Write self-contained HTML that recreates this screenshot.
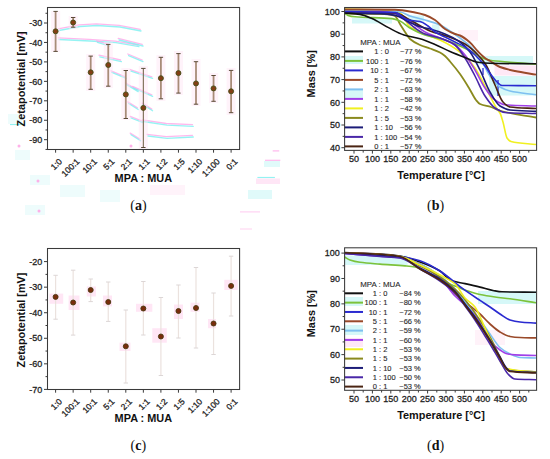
<!DOCTYPE html>
<html><head><meta charset="utf-8"><style>
html,body{margin:0;padding:0;background:#fff;width:550px;height:459px;overflow:hidden}
svg{display:block}
</style></head><body>
<svg width="550" height="459" viewBox="0 0 550 459">
<rect width="550" height="459" fill="#fff"/>
<path d="M58.2,28.9 L79.2,24.9 L96.2,23.9 L119.2,25.4 L140.2,29.4" fill="none" stroke="#ffa6e8" stroke-width="1.3" opacity="0.8" stroke-linecap="round"/>
<path d="M59.0,30.5 L80.0,26.5 L97.0,25.5 L120.0,27.0 L141.0,31.0" fill="none" stroke="#7af0f0" stroke-width="1.3" opacity="0.8" stroke-linecap="round"/>
<path d="M58.2,37.9 L89.2,39.4 L115.2,41.1 L138.2,45.0" fill="none" stroke="#ffa6e8" stroke-width="1.3" opacity="0.8" stroke-linecap="round"/>
<path d="M59.0,39.5 L90.0,41.0 L116.0,42.7 L139.0,46.6" fill="none" stroke="#7af0f0" stroke-width="1.3" opacity="0.8" stroke-linecap="round"/>
<path d="M96.6,40.8 L108.6,44.4" fill="none" stroke="#ffa6e8" stroke-width="1.3" opacity="0.8" stroke-linecap="round"/>
<path d="M97.4,42.4 L109.4,46.0" fill="none" stroke="#7af0f0" stroke-width="1.3" opacity="0.8" stroke-linecap="round"/>
<path d="M118.2,38.4 L142.2,44.4" fill="none" stroke="#ffa6e8" stroke-width="1.3" opacity="0.8" stroke-linecap="round"/>
<path d="M119.0,40.0 L143.0,46.0" fill="none" stroke="#7af0f0" stroke-width="1.3" opacity="0.8" stroke-linecap="round"/>
<path d="M99.0,55.2 L120.6,60.0" fill="none" stroke="#ffa6e8" stroke-width="1.3" opacity="0.8" stroke-linecap="round"/>
<path d="M99.8,56.8 L121.4,61.6" fill="none" stroke="#7af0f0" stroke-width="1.3" opacity="0.8" stroke-linecap="round"/>
<path d="M127.8,54.0 L142.2,60.0" fill="none" stroke="#ffa6e8" stroke-width="1.3" opacity="0.8" stroke-linecap="round"/>
<path d="M128.6,55.6 L143.0,61.6" fill="none" stroke="#7af0f0" stroke-width="1.3" opacity="0.8" stroke-linecap="round"/>
<path d="M111.0,70.8 L125.4,76.8" fill="none" stroke="#ffa6e8" stroke-width="1.3" opacity="0.8" stroke-linecap="round"/>
<path d="M111.8,72.4 L126.2,78.4" fill="none" stroke="#7af0f0" stroke-width="1.3" opacity="0.8" stroke-linecap="round"/>
<path d="M130.2,69.6 L151.8,76.8" fill="none" stroke="#ffa6e8" stroke-width="1.3" opacity="0.8" stroke-linecap="round"/>
<path d="M131.0,71.2 L152.6,78.4" fill="none" stroke="#7af0f0" stroke-width="1.3" opacity="0.8" stroke-linecap="round"/>
<path d="M125.4,82.8 L137.4,90.0" fill="none" stroke="#ffa6e8" stroke-width="1.3" opacity="0.8" stroke-linecap="round"/>
<path d="M126.2,84.4 L138.2,91.6" fill="none" stroke="#7af0f0" stroke-width="1.3" opacity="0.8" stroke-linecap="round"/>
<path d="M132.6,86.4 L151.8,94.8" fill="none" stroke="#ffa6e8" stroke-width="1.3" opacity="0.8" stroke-linecap="round"/>
<path d="M133.4,88.0 L152.6,96.4" fill="none" stroke="#7af0f0" stroke-width="1.3" opacity="0.8" stroke-linecap="round"/>
<path d="M127.8,101.9 L137.4,107.9" fill="none" stroke="#ffa6e8" stroke-width="1.3" opacity="0.8" stroke-linecap="round"/>
<path d="M128.6,103.5 L138.2,109.5" fill="none" stroke="#7af0f0" stroke-width="1.3" opacity="0.8" stroke-linecap="round"/>
<path d="M142.2,103.1 L151.8,109.1" fill="none" stroke="#ffa6e8" stroke-width="1.3" opacity="0.8" stroke-linecap="round"/>
<path d="M143.0,104.7 L152.6,110.7" fill="none" stroke="#7af0f0" stroke-width="1.3" opacity="0.8" stroke-linecap="round"/>
<path d="M130.2,116.4 L142.2,121.1" fill="none" stroke="#ffa6e8" stroke-width="1.3" opacity="0.8" stroke-linecap="round"/>
<path d="M131.0,118.0 L143.0,122.7" fill="none" stroke="#7af0f0" stroke-width="1.3" opacity="0.8" stroke-linecap="round"/>
<path d="M142.2,119.9 L166.2,123.5 L192.5,124.7" fill="none" stroke="#ffa6e8" stroke-width="1.3" opacity="0.8" stroke-linecap="round"/>
<path d="M143.0,121.5 L167.0,125.1 L193.3,126.3" fill="none" stroke="#7af0f0" stroke-width="1.3" opacity="0.8" stroke-linecap="round"/>
<path d="M130.2,133.1 L139.8,139.1" fill="none" stroke="#ffa6e8" stroke-width="1.3" opacity="0.8" stroke-linecap="round"/>
<path d="M131.0,134.7 L140.6,140.7" fill="none" stroke="#7af0f0" stroke-width="1.3" opacity="0.8" stroke-linecap="round"/>
<path d="M147.0,134.4 L166.2,136.7 L192.5,135.4" fill="none" stroke="#ffa6e8" stroke-width="1.3" opacity="0.8" stroke-linecap="round"/>
<path d="M147.8,136.0 L167.0,138.3 L193.3,137.0" fill="none" stroke="#7af0f0" stroke-width="1.3" opacity="0.8" stroke-linecap="round"/>
<rect x="51.1" y="11" width="9" height="41" fill="#ffe4f4" opacity="0.45"/>
<rect x="68.7" y="16" width="9" height="13" fill="#ffe4f4" opacity="0.45"/>
<rect x="86.2" y="54" width="9" height="37" fill="#ffe4f4" opacity="0.45"/>
<rect x="103.8" y="42" width="9" height="46" fill="#ffe4f4" opacity="0.45"/>
<rect x="121.3" y="68" width="9" height="52" fill="#ffe4f4" opacity="0.45"/>
<rect x="138.8" y="66" width="9" height="83" fill="#ffe4f4" opacity="0.45"/>
<rect x="156.4" y="55" width="9" height="46" fill="#ffe4f4" opacity="0.45"/>
<rect x="174.0" y="51" width="9" height="44" fill="#ffe4f4" opacity="0.45"/>
<rect x="191.5" y="59" width="9" height="47" fill="#ffe4f4" opacity="0.45"/>
<rect x="209.1" y="73" width="9" height="30" fill="#ffe4f4" opacity="0.45"/>
<rect x="226.6" y="68" width="9" height="47" fill="#ffe4f4" opacity="0.45"/>
<rect x="49.4" y="293.6" width="13.8" height="10.2" fill="#ffe0f3" opacity="0.8"/>
<rect x="68.6" y="295.5" width="10.9" height="14.5" fill="#ffe0f3" opacity="0.8"/>
<rect x="86.8" y="286.4" width="9.1" height="10.1" fill="#ffe0f3" opacity="0.8"/>
<rect x="103" y="295.5" width="9.0" height="10.9" fill="#ffe0f3" opacity="0.8"/>
<rect x="119.5" y="342.7" width="11.0" height="8.3" fill="#ffe0f3" opacity="0.8"/>
<rect x="136" y="303.8" width="16.3" height="8.0" fill="#ffe0f3" opacity="0.8"/>
<rect x="152.3" y="328.2" width="14.5" height="14.5" fill="#ffe0f3" opacity="0.8"/>
<rect x="174" y="304.5" width="9.0" height="14.5" fill="#ffe0f3" opacity="0.8"/>
<rect x="190.5" y="302.7" width="9.0" height="9.1" fill="#ffe0f3" opacity="0.8"/>
<rect x="208" y="319" width="8.0" height="9.2" fill="#ffe0f3" opacity="0.8"/>
<rect x="224.3" y="279.8" width="13.4" height="10.2" fill="#ffe0f3" opacity="0.8"/>
<rect x="476" y="56" width="57" height="8.5" fill="#d6f8f8"/>
<rect x="489" y="76" width="47" height="19.5" fill="#d6f8f8"/>
<rect x="344.6" y="56" width="18.4" height="8" fill="#d6f8f8"/>
<rect x="344.6" y="90" width="18.4" height="9" fill="#d6f8f8"/>
<rect x="352" y="18" width="40" height="5.5" fill="#d6f8f8"/>
<rect x="408" y="15.4" width="16" height="7.6" fill="#d6f8f8"/>
<rect x="432" y="24.6" width="7.5" height="6.6" fill="#d6f8f8"/>
<rect x="494.5" y="65.5" width="41.5" height="10" fill="#ffe8f6"/>
<rect x="458" y="30" width="20" height="11" fill="#fff2f9"/>
<rect x="344.6" y="255.5" width="63" height="9.5" fill="#d6f8f8"/>
<rect x="344.6" y="297" width="18.4" height="9" fill="#d6f8f8"/>
<rect x="344.6" y="325" width="18.4" height="10" fill="#d6f8f8"/>
<rect x="478" y="291" width="58" height="13" fill="#d6f8f8"/>
<rect x="344.6" y="338" width="18.4" height="9" fill="#ffe8f6"/>
<rect x="475" y="330" width="30" height="15" fill="#fff2f9"/>
<line x1="272.7" y1="150.9" x2="279.2" y2="150.9" stroke="#ffa6e8" stroke-width="1.2" opacity="0.8"/>
<line x1="265" y1="160.3" x2="280.3" y2="160.3" stroke="#ffa6e8" stroke-width="1.2" opacity="0.8"/>
<line x1="257.4" y1="177.5" x2="274.9" y2="177.5" stroke="#7af0f0" stroke-width="1.2" opacity="0.8"/>
<line x1="248.7" y1="194.5" x2="267.2" y2="194.5" stroke="#ffa6e8" stroke-width="1.2" opacity="0.8"/>
<line x1="240" y1="211.9" x2="260" y2="211.9" stroke="#ffc8f0" stroke-width="1.2" opacity="0.8"/>
<line x1="240" y1="229" x2="252" y2="229" stroke="#ffd0f0" stroke-width="1.2" opacity="0.8"/>
<line x1="10" y1="124.5" x2="25" y2="124.5" stroke="#7af0f0" stroke-width="1.2" opacity="0.8"/>
<rect x="264" y="161" width="16" height="6" fill="#e0fafa"/>
<rect x="256" y="178.5" width="24" height="5.5" fill="#ffe6f6"/>
<rect x="248" y="190" width="24" height="9" fill="#e0fafa"/>
<rect x="8" y="114" width="14" height="10" fill="#eefcfc"/>
<rect x="15" y="150" width="15" height="10" fill="#eefcfc"/>
<rect x="30" y="175" width="20" height="10" fill="#eefcfc"/>
<rect x="25" y="205" width="20" height="10" fill="#eefcfc"/>
<rect x="60" y="185" width="25" height="12" fill="#eefcfc"/>
<rect x="100" y="190" width="20" height="12" fill="#eefcfc"/>
<rect x="150" y="185" width="35" height="10" fill="#fff3fa"/>
<circle cx="19" cy="146" r="1.5" fill="#ff9ee4" opacity="0.8"/>
<circle cx="38" cy="181" r="1.5" fill="#ff9ee4" opacity="0.8"/>
<circle cx="39" cy="211" r="1.5" fill="#ff9ee4" opacity="0.8"/>
<circle cx="22" cy="34" r="1.5" fill="#ff9ee4" opacity="0.8"/>
<circle cx="131" cy="146" r="1.5" fill="#ff9ee4" opacity="0.8"/>
<line x1="55.60" y1="11.40" x2="55.60" y2="51.40" stroke="#a88c78" stroke-width="1.8"/>
<line x1="53.40" y1="11.40" x2="57.80" y2="11.40" stroke="#5a4a38" stroke-width="1"/>
<line x1="53.40" y1="51.40" x2="57.80" y2="51.40" stroke="#5a4a38" stroke-width="1"/>
<line x1="73.15" y1="17.50" x2="73.15" y2="27.20" stroke="#a88c78" stroke-width="1.8"/>
<line x1="70.95" y1="17.50" x2="75.35" y2="17.50" stroke="#5a4a38" stroke-width="1"/>
<line x1="70.95" y1="27.20" x2="75.35" y2="27.20" stroke="#5a4a38" stroke-width="1"/>
<line x1="90.70" y1="56.10" x2="90.70" y2="89.30" stroke="#a88c78" stroke-width="1.8"/>
<line x1="88.50" y1="56.10" x2="92.90" y2="56.10" stroke="#5a4a38" stroke-width="1"/>
<line x1="88.50" y1="89.30" x2="92.90" y2="89.30" stroke="#5a4a38" stroke-width="1"/>
<line x1="108.25" y1="44.40" x2="108.25" y2="86.20" stroke="#a88c78" stroke-width="1.8"/>
<line x1="106.05" y1="44.40" x2="110.45" y2="44.40" stroke="#5a4a38" stroke-width="1"/>
<line x1="106.05" y1="86.20" x2="110.45" y2="86.20" stroke="#5a4a38" stroke-width="1"/>
<line x1="125.80" y1="70.50" x2="125.80" y2="118.50" stroke="#a88c78" stroke-width="1.8"/>
<line x1="123.60" y1="70.50" x2="128.00" y2="70.50" stroke="#5a4a38" stroke-width="1"/>
<line x1="123.60" y1="118.50" x2="128.00" y2="118.50" stroke="#5a4a38" stroke-width="1"/>
<line x1="143.35" y1="68.40" x2="143.35" y2="147.50" stroke="#7a6a52" stroke-width="1.1"/>
<line x1="141.15" y1="68.40" x2="145.55" y2="68.40" stroke="#5a4a38" stroke-width="1"/>
<line x1="141.15" y1="147.50" x2="145.55" y2="147.50" stroke="#5a4a38" stroke-width="1"/>
<line x1="160.90" y1="57.30" x2="160.90" y2="98.80" stroke="#a88c78" stroke-width="1.8"/>
<line x1="158.70" y1="57.30" x2="163.10" y2="57.30" stroke="#5a4a38" stroke-width="1"/>
<line x1="158.70" y1="98.80" x2="163.10" y2="98.80" stroke="#5a4a38" stroke-width="1"/>
<line x1="178.45" y1="53.60" x2="178.45" y2="93.10" stroke="#a88c78" stroke-width="1.8"/>
<line x1="176.25" y1="53.60" x2="180.65" y2="53.60" stroke="#5a4a38" stroke-width="1"/>
<line x1="176.25" y1="93.10" x2="180.65" y2="93.10" stroke="#5a4a38" stroke-width="1"/>
<line x1="196.00" y1="61.70" x2="196.00" y2="104.20" stroke="#a88c78" stroke-width="1.8"/>
<line x1="193.80" y1="61.70" x2="198.20" y2="61.70" stroke="#5a4a38" stroke-width="1"/>
<line x1="193.80" y1="104.20" x2="198.20" y2="104.20" stroke="#5a4a38" stroke-width="1"/>
<line x1="213.55" y1="75.50" x2="213.55" y2="101.30" stroke="#a88c78" stroke-width="1.8"/>
<line x1="211.35" y1="75.50" x2="215.75" y2="75.50" stroke="#5a4a38" stroke-width="1"/>
<line x1="211.35" y1="101.30" x2="215.75" y2="101.30" stroke="#5a4a38" stroke-width="1"/>
<line x1="231.10" y1="70.40" x2="231.10" y2="112.70" stroke="#a88c78" stroke-width="1.8"/>
<line x1="228.90" y1="70.40" x2="233.30" y2="70.40" stroke="#5a4a38" stroke-width="1"/>
<line x1="228.90" y1="112.70" x2="233.30" y2="112.70" stroke="#5a4a38" stroke-width="1"/>
<circle cx="55.60" cy="31.30" r="2.5" fill="#843e14" stroke="#44501a" stroke-width="0.9"/>
<circle cx="73.15" cy="22.50" r="2.5" fill="#843e14" stroke="#44501a" stroke-width="0.9"/>
<circle cx="90.70" cy="72.30" r="2.5" fill="#843e14" stroke="#44501a" stroke-width="0.9"/>
<circle cx="108.25" cy="65.00" r="2.5" fill="#843e14" stroke="#44501a" stroke-width="0.9"/>
<circle cx="125.80" cy="94.40" r="2.5" fill="#843e14" stroke="#44501a" stroke-width="0.9"/>
<circle cx="143.35" cy="107.90" r="2.5" fill="#843e14" stroke="#44501a" stroke-width="0.9"/>
<circle cx="160.90" cy="78.20" r="2.5" fill="#843e14" stroke="#44501a" stroke-width="0.9"/>
<circle cx="178.45" cy="73.10" r="2.5" fill="#843e14" stroke="#44501a" stroke-width="0.9"/>
<circle cx="196.00" cy="83.40" r="2.5" fill="#843e14" stroke="#44501a" stroke-width="0.9"/>
<circle cx="213.55" cy="88.40" r="2.5" fill="#843e14" stroke="#44501a" stroke-width="0.9"/>
<circle cx="231.10" cy="91.30" r="2.5" fill="#843e14" stroke="#44501a" stroke-width="0.9"/>
<rect x="47.5" y="7.5" width="192.10" height="142.00" fill="none" stroke="#3a3a3a" stroke-width="1.05"/>
<line x1="44" y1="23.00" x2="47.5" y2="23.00" stroke="#3a3a3a" stroke-width="1"/>
<text x="42.30" y="26.20" font-size="9" text-anchor="end" font-weight="normal" fill="#1e1e1e" stroke="#1e1e1e" stroke-width="0.28" font-family='"Liberation Sans", sans-serif' >-30</text>
<line x1="44" y1="42.45" x2="47.5" y2="42.45" stroke="#3a3a3a" stroke-width="1"/>
<text x="42.30" y="45.65" font-size="9" text-anchor="end" font-weight="normal" fill="#1e1e1e" stroke="#1e1e1e" stroke-width="0.28" font-family='"Liberation Sans", sans-serif' >-40</text>
<line x1="44" y1="61.90" x2="47.5" y2="61.90" stroke="#3a3a3a" stroke-width="1"/>
<text x="42.30" y="65.10" font-size="9" text-anchor="end" font-weight="normal" fill="#1e1e1e" stroke="#1e1e1e" stroke-width="0.28" font-family='"Liberation Sans", sans-serif' >-50</text>
<line x1="44" y1="81.35" x2="47.5" y2="81.35" stroke="#3a3a3a" stroke-width="1"/>
<text x="42.30" y="84.55" font-size="9" text-anchor="end" font-weight="normal" fill="#1e1e1e" stroke="#1e1e1e" stroke-width="0.28" font-family='"Liberation Sans", sans-serif' >-60</text>
<line x1="44" y1="100.80" x2="47.5" y2="100.80" stroke="#3a3a3a" stroke-width="1"/>
<text x="42.30" y="104.00" font-size="9" text-anchor="end" font-weight="normal" fill="#1e1e1e" stroke="#1e1e1e" stroke-width="0.28" font-family='"Liberation Sans", sans-serif' >-70</text>
<line x1="44" y1="120.25" x2="47.5" y2="120.25" stroke="#3a3a3a" stroke-width="1"/>
<text x="42.30" y="123.45" font-size="9" text-anchor="end" font-weight="normal" fill="#1e1e1e" stroke="#1e1e1e" stroke-width="0.28" font-family='"Liberation Sans", sans-serif' >-80</text>
<line x1="44" y1="139.70" x2="47.5" y2="139.70" stroke="#3a3a3a" stroke-width="1"/>
<text x="42.30" y="142.90" font-size="9" text-anchor="end" font-weight="normal" fill="#1e1e1e" stroke="#1e1e1e" stroke-width="0.28" font-family='"Liberation Sans", sans-serif' >-90</text>
<line x1="45.5" y1="13.28" x2="47.5" y2="13.28" stroke="#3a3a3a" stroke-width="1"/>
<line x1="45.5" y1="32.73" x2="47.5" y2="32.73" stroke="#3a3a3a" stroke-width="1"/>
<line x1="45.5" y1="52.17" x2="47.5" y2="52.17" stroke="#3a3a3a" stroke-width="1"/>
<line x1="45.5" y1="71.62" x2="47.5" y2="71.62" stroke="#3a3a3a" stroke-width="1"/>
<line x1="45.5" y1="91.08" x2="47.5" y2="91.08" stroke="#3a3a3a" stroke-width="1"/>
<line x1="45.5" y1="110.53" x2="47.5" y2="110.53" stroke="#3a3a3a" stroke-width="1"/>
<line x1="45.5" y1="129.98" x2="47.5" y2="129.98" stroke="#3a3a3a" stroke-width="1"/>
<line x1="45.5" y1="149.43" x2="47.5" y2="149.43" stroke="#3a3a3a" stroke-width="1"/>
<line x1="55.60" y1="149.5" x2="55.60" y2="152.70" stroke="#3a3a3a" stroke-width="1"/>
<text transform="translate(62.50,162.10) rotate(-45)" font-size="8.5" text-anchor="end" fill="#1e1e1e" stroke="#1e1e1e" stroke-width="0.28" font-family='"Liberation Sans", sans-serif'>1:0</text>
<line x1="73.15" y1="149.5" x2="73.15" y2="152.70" stroke="#3a3a3a" stroke-width="1"/>
<text transform="translate(80.05,162.10) rotate(-45)" font-size="8.5" text-anchor="end" fill="#1e1e1e" stroke="#1e1e1e" stroke-width="0.28" font-family='"Liberation Sans", sans-serif'>100:1</text>
<line x1="90.70" y1="149.5" x2="90.70" y2="152.70" stroke="#3a3a3a" stroke-width="1"/>
<text transform="translate(97.60,162.10) rotate(-45)" font-size="8.5" text-anchor="end" fill="#1e1e1e" stroke="#1e1e1e" stroke-width="0.28" font-family='"Liberation Sans", sans-serif'>10:1</text>
<line x1="108.25" y1="149.5" x2="108.25" y2="152.70" stroke="#3a3a3a" stroke-width="1"/>
<text transform="translate(115.15,162.10) rotate(-45)" font-size="8.5" text-anchor="end" fill="#1e1e1e" stroke="#1e1e1e" stroke-width="0.28" font-family='"Liberation Sans", sans-serif'>5:1</text>
<line x1="125.80" y1="149.5" x2="125.80" y2="152.70" stroke="#3a3a3a" stroke-width="1"/>
<text transform="translate(132.70,162.10) rotate(-45)" font-size="8.5" text-anchor="end" fill="#1e1e1e" stroke="#1e1e1e" stroke-width="0.28" font-family='"Liberation Sans", sans-serif'>2:1</text>
<line x1="143.35" y1="149.5" x2="143.35" y2="152.70" stroke="#3a3a3a" stroke-width="1"/>
<text transform="translate(150.25,162.10) rotate(-45)" font-size="8.5" text-anchor="end" fill="#1e1e1e" stroke="#1e1e1e" stroke-width="0.28" font-family='"Liberation Sans", sans-serif'>1:1</text>
<line x1="160.90" y1="149.5" x2="160.90" y2="152.70" stroke="#3a3a3a" stroke-width="1"/>
<text transform="translate(167.80,162.10) rotate(-45)" font-size="8.5" text-anchor="end" fill="#1e1e1e" stroke="#1e1e1e" stroke-width="0.28" font-family='"Liberation Sans", sans-serif'>1:2</text>
<line x1="178.45" y1="149.5" x2="178.45" y2="152.70" stroke="#3a3a3a" stroke-width="1"/>
<text transform="translate(185.35,162.10) rotate(-45)" font-size="8.5" text-anchor="end" fill="#1e1e1e" stroke="#1e1e1e" stroke-width="0.28" font-family='"Liberation Sans", sans-serif'>1:5</text>
<line x1="196.00" y1="149.5" x2="196.00" y2="152.70" stroke="#3a3a3a" stroke-width="1"/>
<text transform="translate(202.90,162.10) rotate(-45)" font-size="8.5" text-anchor="end" fill="#1e1e1e" stroke="#1e1e1e" stroke-width="0.28" font-family='"Liberation Sans", sans-serif'>1:10</text>
<line x1="213.55" y1="149.5" x2="213.55" y2="152.70" stroke="#3a3a3a" stroke-width="1"/>
<text transform="translate(220.45,162.10) rotate(-45)" font-size="8.5" text-anchor="end" fill="#1e1e1e" stroke="#1e1e1e" stroke-width="0.28" font-family='"Liberation Sans", sans-serif'>1:100</text>
<line x1="231.10" y1="149.5" x2="231.10" y2="152.70" stroke="#3a3a3a" stroke-width="1"/>
<text transform="translate(238.00,162.10) rotate(-45)" font-size="8.5" text-anchor="end" fill="#1e1e1e" stroke="#1e1e1e" stroke-width="0.28" font-family='"Liberation Sans", sans-serif'>0:1</text>
<text transform="translate(25.2,78.90) rotate(-90)" font-size="10.9" text-anchor="middle" font-weight="bold" fill="#111" font-family='"Liberation Sans", sans-serif'>Zetapotential [mV]</text>
<text x="143.35" y="181.50" font-size="10.9" text-anchor="middle" font-weight="bold" fill="#111"  font-family='"Liberation Sans", sans-serif' >MPA : MUA</text>
<text x="138.40" y="209.60" font-size="14" text-anchor="middle" font-weight="normal" fill="#111"  font-family='"Liberation Serif", serif' >(<tspan font-weight="bold">a</tspan>)</text>
<line x1="55.60" y1="275.30" x2="55.60" y2="319.20" stroke="#ebe2de" stroke-width="1.2"/>
<line x1="53.40" y1="275.30" x2="57.80" y2="275.30" stroke="#dcd6d6" stroke-width="1"/>
<line x1="53.40" y1="319.20" x2="57.80" y2="319.20" stroke="#dcd6d6" stroke-width="1"/>
<line x1="73.15" y1="270.20" x2="73.15" y2="335.10" stroke="#ebe2de" stroke-width="1.2"/>
<line x1="70.95" y1="270.20" x2="75.35" y2="270.20" stroke="#dcd6d6" stroke-width="1"/>
<line x1="70.95" y1="335.10" x2="75.35" y2="335.10" stroke="#dcd6d6" stroke-width="1"/>
<line x1="90.70" y1="279.00" x2="90.70" y2="301.60" stroke="#ebe2de" stroke-width="1.2"/>
<line x1="88.50" y1="279.00" x2="92.90" y2="279.00" stroke="#dcd6d6" stroke-width="1"/>
<line x1="88.50" y1="301.60" x2="92.90" y2="301.60" stroke="#dcd6d6" stroke-width="1"/>
<line x1="108.25" y1="282.00" x2="108.25" y2="321.40" stroke="#ebe2de" stroke-width="1.2"/>
<line x1="106.05" y1="282.00" x2="110.45" y2="282.00" stroke="#dcd6d6" stroke-width="1"/>
<line x1="106.05" y1="321.40" x2="110.45" y2="321.40" stroke="#dcd6d6" stroke-width="1"/>
<line x1="125.80" y1="310.00" x2="125.80" y2="383.00" stroke="#ebe2de" stroke-width="1.2"/>
<line x1="123.60" y1="310.00" x2="128.00" y2="310.00" stroke="#dcd6d6" stroke-width="1"/>
<line x1="123.60" y1="383.00" x2="128.00" y2="383.00" stroke="#dcd6d6" stroke-width="1"/>
<line x1="143.35" y1="281.50" x2="143.35" y2="335.00" stroke="#ebe2de" stroke-width="1.2"/>
<line x1="141.15" y1="281.50" x2="145.55" y2="281.50" stroke="#dcd6d6" stroke-width="1"/>
<line x1="141.15" y1="335.00" x2="145.55" y2="335.00" stroke="#dcd6d6" stroke-width="1"/>
<line x1="160.90" y1="297.50" x2="160.90" y2="375.50" stroke="#ebe2de" stroke-width="1.2"/>
<line x1="158.70" y1="297.50" x2="163.10" y2="297.50" stroke="#dcd6d6" stroke-width="1"/>
<line x1="158.70" y1="375.50" x2="163.10" y2="375.50" stroke="#dcd6d6" stroke-width="1"/>
<line x1="178.45" y1="285.00" x2="178.45" y2="338.00" stroke="#ebe2de" stroke-width="1.2"/>
<line x1="176.25" y1="285.00" x2="180.65" y2="285.00" stroke="#dcd6d6" stroke-width="1"/>
<line x1="176.25" y1="338.00" x2="180.65" y2="338.00" stroke="#dcd6d6" stroke-width="1"/>
<line x1="196.00" y1="267.50" x2="196.00" y2="348.00" stroke="#ebe2de" stroke-width="1.2"/>
<line x1="193.80" y1="267.50" x2="198.20" y2="267.50" stroke="#dcd6d6" stroke-width="1"/>
<line x1="193.80" y1="348.00" x2="198.20" y2="348.00" stroke="#dcd6d6" stroke-width="1"/>
<line x1="213.55" y1="293.00" x2="213.55" y2="354.50" stroke="#ebe2de" stroke-width="1.2"/>
<line x1="211.35" y1="293.00" x2="215.75" y2="293.00" stroke="#dcd6d6" stroke-width="1"/>
<line x1="211.35" y1="354.50" x2="215.75" y2="354.50" stroke="#dcd6d6" stroke-width="1"/>
<line x1="231.10" y1="256.20" x2="231.10" y2="316.00" stroke="#ebe2de" stroke-width="1.2"/>
<line x1="228.90" y1="256.20" x2="233.30" y2="256.20" stroke="#dcd6d6" stroke-width="1"/>
<line x1="228.90" y1="316.00" x2="233.30" y2="316.00" stroke="#dcd6d6" stroke-width="1"/>
<circle cx="55.60" cy="296.90" r="2.5" fill="#7a2c0c" stroke="#4a3a10" stroke-width="0.9"/>
<circle cx="73.15" cy="302.50" r="2.5" fill="#7a2c0c" stroke="#4a3a10" stroke-width="0.9"/>
<circle cx="90.70" cy="290.00" r="2.5" fill="#7a2c0c" stroke="#4a3a10" stroke-width="0.9"/>
<circle cx="108.25" cy="302.00" r="2.5" fill="#7a2c0c" stroke="#4a3a10" stroke-width="0.9"/>
<circle cx="125.80" cy="346.30" r="2.5" fill="#7a2c0c" stroke="#4a3a10" stroke-width="0.9"/>
<circle cx="143.35" cy="308.50" r="2.5" fill="#7a2c0c" stroke="#4a3a10" stroke-width="0.9"/>
<circle cx="160.90" cy="336.50" r="2.5" fill="#7a2c0c" stroke="#4a3a10" stroke-width="0.9"/>
<circle cx="178.45" cy="311.00" r="2.5" fill="#7a2c0c" stroke="#4a3a10" stroke-width="0.9"/>
<circle cx="196.00" cy="308.00" r="2.5" fill="#7a2c0c" stroke="#4a3a10" stroke-width="0.9"/>
<circle cx="213.55" cy="323.50" r="2.5" fill="#7a2c0c" stroke="#4a3a10" stroke-width="0.9"/>
<circle cx="231.10" cy="285.90" r="2.5" fill="#7a2c0c" stroke="#4a3a10" stroke-width="0.9"/>
<rect x="47.5" y="248.5" width="192.10" height="141.00" fill="none" stroke="#3a3a3a" stroke-width="1.05"/>
<line x1="44" y1="261.60" x2="47.5" y2="261.60" stroke="#3a3a3a" stroke-width="1"/>
<text x="42.30" y="264.80" font-size="9" text-anchor="end" font-weight="normal" fill="#1e1e1e" stroke="#1e1e1e" stroke-width="0.28" font-family='"Liberation Sans", sans-serif' >-20</text>
<line x1="44" y1="287.16" x2="47.5" y2="287.16" stroke="#3a3a3a" stroke-width="1"/>
<text x="42.30" y="290.36" font-size="9" text-anchor="end" font-weight="normal" fill="#1e1e1e" stroke="#1e1e1e" stroke-width="0.28" font-family='"Liberation Sans", sans-serif' >-30</text>
<line x1="44" y1="312.72" x2="47.5" y2="312.72" stroke="#3a3a3a" stroke-width="1"/>
<text x="42.30" y="315.92" font-size="9" text-anchor="end" font-weight="normal" fill="#1e1e1e" stroke="#1e1e1e" stroke-width="0.28" font-family='"Liberation Sans", sans-serif' >-40</text>
<line x1="44" y1="338.28" x2="47.5" y2="338.28" stroke="#3a3a3a" stroke-width="1"/>
<text x="42.30" y="341.48" font-size="9" text-anchor="end" font-weight="normal" fill="#1e1e1e" stroke="#1e1e1e" stroke-width="0.28" font-family='"Liberation Sans", sans-serif' >-50</text>
<line x1="44" y1="363.84" x2="47.5" y2="363.84" stroke="#3a3a3a" stroke-width="1"/>
<text x="42.30" y="367.04" font-size="9" text-anchor="end" font-weight="normal" fill="#1e1e1e" stroke="#1e1e1e" stroke-width="0.28" font-family='"Liberation Sans", sans-serif' >-60</text>
<line x1="44" y1="389.40" x2="47.5" y2="389.40" stroke="#3a3a3a" stroke-width="1"/>
<text x="42.30" y="392.60" font-size="9" text-anchor="end" font-weight="normal" fill="#1e1e1e" stroke="#1e1e1e" stroke-width="0.28" font-family='"Liberation Sans", sans-serif' >-70</text>
<line x1="45.5" y1="274.38" x2="47.5" y2="274.38" stroke="#3a3a3a" stroke-width="1"/>
<line x1="45.5" y1="299.94" x2="47.5" y2="299.94" stroke="#3a3a3a" stroke-width="1"/>
<line x1="45.5" y1="325.50" x2="47.5" y2="325.50" stroke="#3a3a3a" stroke-width="1"/>
<line x1="45.5" y1="351.06" x2="47.5" y2="351.06" stroke="#3a3a3a" stroke-width="1"/>
<line x1="45.5" y1="376.62" x2="47.5" y2="376.62" stroke="#3a3a3a" stroke-width="1"/>
<line x1="55.60" y1="389.5" x2="55.60" y2="392.70" stroke="#3a3a3a" stroke-width="1"/>
<text transform="translate(62.50,402.10) rotate(-45)" font-size="8.5" text-anchor="end" fill="#1e1e1e" stroke="#1e1e1e" stroke-width="0.28" font-family='"Liberation Sans", sans-serif'>1:0</text>
<line x1="73.15" y1="389.5" x2="73.15" y2="392.70" stroke="#3a3a3a" stroke-width="1"/>
<text transform="translate(80.05,402.10) rotate(-45)" font-size="8.5" text-anchor="end" fill="#1e1e1e" stroke="#1e1e1e" stroke-width="0.28" font-family='"Liberation Sans", sans-serif'>100:1</text>
<line x1="90.70" y1="389.5" x2="90.70" y2="392.70" stroke="#3a3a3a" stroke-width="1"/>
<text transform="translate(97.60,402.10) rotate(-45)" font-size="8.5" text-anchor="end" fill="#1e1e1e" stroke="#1e1e1e" stroke-width="0.28" font-family='"Liberation Sans", sans-serif'>10:1</text>
<line x1="108.25" y1="389.5" x2="108.25" y2="392.70" stroke="#3a3a3a" stroke-width="1"/>
<text transform="translate(115.15,402.10) rotate(-45)" font-size="8.5" text-anchor="end" fill="#1e1e1e" stroke="#1e1e1e" stroke-width="0.28" font-family='"Liberation Sans", sans-serif'>5:1</text>
<line x1="125.80" y1="389.5" x2="125.80" y2="392.70" stroke="#3a3a3a" stroke-width="1"/>
<text transform="translate(132.70,402.10) rotate(-45)" font-size="8.5" text-anchor="end" fill="#1e1e1e" stroke="#1e1e1e" stroke-width="0.28" font-family='"Liberation Sans", sans-serif'>2:1</text>
<line x1="143.35" y1="389.5" x2="143.35" y2="392.70" stroke="#3a3a3a" stroke-width="1"/>
<text transform="translate(150.25,402.10) rotate(-45)" font-size="8.5" text-anchor="end" fill="#1e1e1e" stroke="#1e1e1e" stroke-width="0.28" font-family='"Liberation Sans", sans-serif'>1:1</text>
<line x1="160.90" y1="389.5" x2="160.90" y2="392.70" stroke="#3a3a3a" stroke-width="1"/>
<text transform="translate(167.80,402.10) rotate(-45)" font-size="8.5" text-anchor="end" fill="#1e1e1e" stroke="#1e1e1e" stroke-width="0.28" font-family='"Liberation Sans", sans-serif'>1:2</text>
<line x1="178.45" y1="389.5" x2="178.45" y2="392.70" stroke="#3a3a3a" stroke-width="1"/>
<text transform="translate(185.35,402.10) rotate(-45)" font-size="8.5" text-anchor="end" fill="#1e1e1e" stroke="#1e1e1e" stroke-width="0.28" font-family='"Liberation Sans", sans-serif'>1:5</text>
<line x1="196.00" y1="389.5" x2="196.00" y2="392.70" stroke="#3a3a3a" stroke-width="1"/>
<text transform="translate(202.90,402.10) rotate(-45)" font-size="8.5" text-anchor="end" fill="#1e1e1e" stroke="#1e1e1e" stroke-width="0.28" font-family='"Liberation Sans", sans-serif'>1:10</text>
<line x1="213.55" y1="389.5" x2="213.55" y2="392.70" stroke="#3a3a3a" stroke-width="1"/>
<text transform="translate(220.45,402.10) rotate(-45)" font-size="8.5" text-anchor="end" fill="#1e1e1e" stroke="#1e1e1e" stroke-width="0.28" font-family='"Liberation Sans", sans-serif'>1:100</text>
<line x1="231.10" y1="389.5" x2="231.10" y2="392.70" stroke="#3a3a3a" stroke-width="1"/>
<text transform="translate(238.00,402.10) rotate(-45)" font-size="8.5" text-anchor="end" fill="#1e1e1e" stroke="#1e1e1e" stroke-width="0.28" font-family='"Liberation Sans", sans-serif'>0:1</text>
<text transform="translate(25.2,320.00) rotate(-90)" font-size="10.9" text-anchor="middle" font-weight="bold" fill="#111" font-family='"Liberation Sans", sans-serif'>Zetapotential [mV]</text>
<text x="143.35" y="421.50" font-size="10.9" text-anchor="middle" font-weight="bold" fill="#111"  font-family='"Liberation Sans", sans-serif' >MPA : MUA</text>
<text x="138.40" y="449.60" font-size="14" text-anchor="middle" font-weight="normal" fill="#111"  font-family='"Liberation Serif", serif' >(<tspan font-weight="bold">c</tspan>)</text>
<line x1="498" y1="80" x2="498" y2="96" stroke="#2a2ad0" stroke-width="1.3"/>
<line x1="483" y1="68" x2="483" y2="75" stroke="#2a2ad0" stroke-width="1.3"/>
<path d="M344.60,13.50 C359.73,13.83 374.87,13.69 390.00,14.50 C391.67,14.59 393.33,15.16 395.00,16.00 C396.67,16.84 398.33,21.33 400.00,24.00 C401.67,26.67 403.33,29.51 405.00,32.00 C406.67,34.49 408.33,37.53 410.00,39.00 C413.33,41.93 416.67,43.53 420.00,45.00 C423.33,46.47 426.67,47.26 430.00,48.50 C433.33,49.74 436.67,50.75 440.00,52.50 C441.67,53.38 443.33,54.57 445.00,56.00 C446.67,57.43 448.33,59.56 450.00,61.50 C453.33,65.37 456.67,69.37 460.00,74.00 C463.00,78.17 466.00,83.10 469.00,88.00 C471.33,91.81 473.67,97.12 476.00,100.00 C477.33,101.64 478.67,103.37 480.00,104.00 C483.67,105.72 487.33,105.81 491.00,107.00 C494.33,108.08 497.67,110.09 501.00,111.00 C512.67,114.17 524.33,115.33 536.00,117.50" fill="none" stroke="#8a8a1e" stroke-width="1.8" stroke-linejoin="round"/>
<path d="M344.60,9.00 C356.40,9.33 368.20,9.40 380.00,10.00 C386.67,10.34 393.33,11.02 400.00,13.00 C403.33,13.99 406.67,24.54 410.00,27.00 C413.33,29.46 416.67,30.50 420.00,32.00 C426.67,35.00 433.33,36.80 440.00,40.00 C446.67,43.20 453.33,46.81 460.00,52.00 C465.00,55.89 470.00,61.20 475.00,68.00 C479.33,73.90 483.67,83.90 488.00,92.00 C491.00,97.61 494.00,104.44 497.00,109.00 C498.00,110.52 499.00,111.15 500.00,113.00 C501.00,114.85 502.00,118.59 503.00,122.00 C504.33,126.54 505.67,136.09 507.00,138.00 C508.33,139.91 509.67,141.16 511.00,141.50 C519.33,143.65 527.67,143.50 536.00,144.50" fill="none" stroke="#f0f020" stroke-width="1.6" stroke-linejoin="round"/>
<path d="M344.60,12.50 C345.73,13.47 346.87,15.00 348.00,15.40 C350.33,16.21 352.67,16.59 355.00,16.80 C367.33,17.92 379.67,17.38 392.00,18.60 C394.67,18.86 397.33,19.90 400.00,21.00 C403.33,22.38 406.67,26.11 410.00,28.00 C415.00,30.84 420.00,33.35 425.00,35.00 C431.67,37.20 438.33,37.93 445.00,40.00 C450.00,41.56 455.00,43.77 460.00,46.00 C464.00,47.79 468.00,49.76 472.00,52.00 C474.67,53.49 477.33,55.83 480.00,57.00 C483.33,58.46 486.67,59.78 490.00,60.30 C496.67,61.35 503.33,61.63 510.00,62.20 C518.67,62.94 527.33,63.53 536.00,64.20" fill="none" stroke="#7cc23a" stroke-width="1.6" stroke-linejoin="round"/>
<path d="M344.60,10.50 C363.07,11.00 381.53,10.83 400.00,12.00 C403.33,12.21 406.67,14.92 410.00,16.00 C415.00,17.62 420.00,18.52 425.00,20.00 C430.00,21.48 435.00,22.82 440.00,25.00 C443.33,26.46 446.67,28.85 450.00,31.00 C453.33,33.15 456.67,35.51 460.00,38.00 C463.33,40.49 466.67,42.80 470.00,46.00 C473.33,49.20 476.67,53.20 480.00,58.00 C483.33,62.80 486.67,71.45 490.00,76.00 C493.33,80.55 496.67,85.04 500.00,87.00 C503.33,88.96 506.67,90.23 510.00,91.00 C518.67,92.99 527.33,93.53 536.00,94.80" fill="none" stroke="#7ec0f0" stroke-width="1.6" stroke-linejoin="round"/>
<path d="M344.60,9.50 C361.40,9.60 378.20,9.58 395.00,9.80 C401.67,9.89 408.33,11.29 415.00,12.50 C418.33,13.10 421.67,13.89 425.00,15.00 C428.33,16.11 431.67,17.86 435.00,20.00 C438.33,22.14 441.67,26.86 445.00,29.00 C448.33,31.14 451.67,32.78 455.00,34.00 C456.67,34.61 458.33,34.83 460.00,35.50 C463.33,36.84 466.67,39.60 470.00,42.50 C472.67,44.82 475.33,48.79 478.00,51.50 C480.33,53.87 482.67,56.32 485.00,58.00 C486.67,59.20 488.33,60.00 490.00,61.00 C493.33,63.00 496.67,65.74 500.00,67.00 C505.00,68.89 510.00,69.94 515.00,71.00 C522.00,72.48 529.00,73.40 536.00,74.60" fill="none" stroke="#9a4a2a" stroke-width="1.9" stroke-linejoin="round"/>
<path d="M344.60,12.00 C356.40,11.83 368.20,11.50 380.00,11.50 C385.00,11.50 390.00,12.14 395.00,13.00 C398.33,13.57 401.67,15.71 405.00,17.60 C408.33,19.49 411.67,22.60 415.00,25.00 C418.33,27.40 421.67,30.27 425.00,32.00 C430.00,34.59 435.00,35.85 440.00,38.00 C445.00,40.15 450.00,41.74 455.00,45.00 C458.33,47.17 461.67,51.00 465.00,55.00 C468.33,59.00 471.67,64.55 475.00,70.00 C478.33,75.45 481.67,83.20 485.00,88.00 C488.33,92.80 491.67,97.75 495.00,100.00 C498.33,102.25 501.67,104.40 505.00,104.70 C515.33,105.63 525.67,105.57 536.00,106.00" fill="none" stroke="#a040e8" stroke-width="1.6" stroke-linejoin="round"/>
<path d="M344.60,12.50 C361.40,12.93 378.20,12.75 395.00,13.80 C398.33,14.01 401.67,17.67 405.00,20.00 C408.33,22.33 411.67,25.71 415.00,28.00 C418.33,30.29 421.67,32.74 425.00,34.00 C430.00,35.89 435.00,36.30 440.00,38.00 C445.00,39.70 450.00,41.45 455.00,45.00 C458.33,47.36 461.67,52.97 465.00,58.00 C468.33,63.03 471.67,69.68 475.00,76.00 C478.33,82.32 481.67,91.00 485.00,96.00 C488.33,101.00 491.67,105.82 495.00,108.00 C498.33,110.18 501.67,112.26 505.00,112.50 C515.33,113.23 525.67,113.17 536.00,113.50" fill="none" stroke="#4a28a8" stroke-width="1.6" stroke-linejoin="round"/>
<path d="M344.60,12.00 C351.40,12.17 358.20,12.40 365.00,12.50 C375.00,12.65 385.00,12.58 395.00,12.80 C400.00,12.91 405.00,17.46 410.00,20.00 C416.67,23.39 423.33,28.30 430.00,30.90 C436.00,33.24 442.00,34.22 448.00,36.40 C453.67,38.46 459.33,40.64 465.00,44.00 C469.33,46.57 473.67,50.56 478.00,55.00 C480.67,57.73 483.33,60.76 486.00,65.00 C489.00,69.77 492.00,78.49 495.00,85.00 C497.67,90.79 500.33,99.18 503.00,102.00 C505.33,104.47 507.67,106.70 510.00,107.00 C518.67,108.11 527.33,108.00 536.00,108.50" fill="none" stroke="#4a2412" stroke-width="1.6" stroke-linejoin="round"/>
<path d="M344.60,13.00 C356.40,13.27 368.20,13.32 380.00,13.80 C385.00,14.00 390.00,14.53 395.00,15.40 C400.00,16.27 405.00,20.14 410.00,22.40 C413.33,23.91 416.67,25.82 420.00,26.80 C423.33,27.78 426.67,28.13 430.00,29.00 C435.00,30.31 440.00,31.95 445.00,34.00 C450.00,36.05 455.00,38.45 460.00,42.00 C463.33,44.37 466.67,47.71 470.00,52.00 C473.33,56.29 476.67,63.40 480.00,70.00 C483.33,76.60 486.67,86.30 490.00,92.00 C493.33,97.70 496.67,103.93 500.00,106.00 C503.33,108.07 506.67,109.64 510.00,110.00 C518.67,110.93 527.33,110.93 536.00,111.40" fill="none" stroke="#1c1c78" stroke-width="1.6" stroke-linejoin="round"/>
<path d="M344.60,11.50 C361.40,11.83 378.20,11.71 395.00,12.50 C399.33,12.70 403.67,18.97 408.00,19.90 C412.00,20.76 416.00,20.60 420.00,21.50 C422.67,22.10 425.33,24.18 428.00,26.00 C430.33,27.59 432.67,30.50 435.00,32.00 C438.33,34.14 441.67,35.33 445.00,37.00 C448.33,38.67 451.67,40.33 455.00,42.00 C458.33,43.67 461.67,44.95 465.00,47.00 C468.33,49.05 471.67,51.91 475.00,55.00 C478.33,58.09 481.67,61.82 485.00,66.00 C487.33,68.92 489.67,72.97 492.00,76.00 C493.67,78.16 495.33,80.53 497.00,82.00 C498.67,83.47 500.33,85.47 502.00,85.50 C513.33,85.67 524.67,85.63 536.00,85.70" fill="none" stroke="#2a2ad0" stroke-width="1.6" stroke-linejoin="round"/>
<path d="M344.60,13.00 C349.73,13.47 354.87,13.64 360.00,14.40 C364.00,14.99 368.00,16.83 372.00,18.50 C377.33,20.73 382.67,24.67 388.00,27.40 C393.33,30.13 398.67,33.31 404.00,35.00 C409.33,36.69 414.67,37.24 420.00,38.80 C425.00,40.27 430.00,42.41 435.00,44.50 C440.00,46.59 445.00,49.35 450.00,51.50 C455.00,53.65 460.00,55.58 465.00,57.50 C469.33,59.16 473.67,61.72 478.00,62.30 C482.00,62.84 486.00,63.21 490.00,63.30 C505.33,63.65 520.67,63.63 536.00,63.80" fill="none" stroke="#111111" stroke-width="1.6" stroke-linejoin="round"/>
<text x="380.40" y="44.50" font-size="7.9" text-anchor="middle" font-weight="normal" fill="#2a2a2a" stroke="#2a2a2a" stroke-width="0.12" font-family='"Liberation Sans", sans-serif' >MPA : MUA</text>
<line x1="344.6" y1="51.40" x2="363" y2="51.40" stroke="#111111" stroke-width="2"/>
<text x="378.50" y="54.00" font-size="7.5" text-anchor="end" font-weight="normal" fill="#2a2a2a" stroke="#2a2a2a" stroke-width="0.12" font-family='"Liberation Sans", sans-serif' >1</text>
<text x="381.60" y="54.00" font-size="7.5" text-anchor="middle" font-weight="normal" fill="#2a2a2a" stroke="#2a2a2a" stroke-width="0.12" font-family='"Liberation Sans", sans-serif' >:</text>
<text x="384.70" y="54.00" font-size="7.5" text-anchor="start" font-weight="normal" fill="#2a2a2a" stroke="#2a2a2a" stroke-width="0.12" font-family='"Liberation Sans", sans-serif' >0</text>
<text x="400.00" y="54.00" font-size="7.5" text-anchor="start" font-weight="normal" fill="#2a2a2a" stroke="#2a2a2a" stroke-width="0.12" font-family='"Liberation Sans", sans-serif' >~77 %</text>
<line x1="344.6" y1="60.90" x2="363" y2="60.90" stroke="#7cc23a" stroke-width="2"/>
<text x="378.50" y="63.50" font-size="7.5" text-anchor="end" font-weight="normal" fill="#2a2a2a" stroke="#2a2a2a" stroke-width="0.12" font-family='"Liberation Sans", sans-serif' >100</text>
<text x="381.60" y="63.50" font-size="7.5" text-anchor="middle" font-weight="normal" fill="#2a2a2a" stroke="#2a2a2a" stroke-width="0.12" font-family='"Liberation Sans", sans-serif' >:</text>
<text x="384.70" y="63.50" font-size="7.5" text-anchor="start" font-weight="normal" fill="#2a2a2a" stroke="#2a2a2a" stroke-width="0.12" font-family='"Liberation Sans", sans-serif' >1</text>
<text x="400.00" y="63.50" font-size="7.5" text-anchor="start" font-weight="normal" fill="#2a2a2a" stroke="#2a2a2a" stroke-width="0.12" font-family='"Liberation Sans", sans-serif' >~76 %</text>
<line x1="344.6" y1="70.40" x2="363" y2="70.40" stroke="#2a2ad0" stroke-width="2"/>
<text x="378.50" y="73.00" font-size="7.5" text-anchor="end" font-weight="normal" fill="#2a2a2a" stroke="#2a2a2a" stroke-width="0.12" font-family='"Liberation Sans", sans-serif' >10</text>
<text x="381.60" y="73.00" font-size="7.5" text-anchor="middle" font-weight="normal" fill="#2a2a2a" stroke="#2a2a2a" stroke-width="0.12" font-family='"Liberation Sans", sans-serif' >:</text>
<text x="384.70" y="73.00" font-size="7.5" text-anchor="start" font-weight="normal" fill="#2a2a2a" stroke="#2a2a2a" stroke-width="0.12" font-family='"Liberation Sans", sans-serif' >1</text>
<text x="400.00" y="73.00" font-size="7.5" text-anchor="start" font-weight="normal" fill="#2a2a2a" stroke="#2a2a2a" stroke-width="0.12" font-family='"Liberation Sans", sans-serif' >~67 %</text>
<line x1="344.6" y1="79.90" x2="363" y2="79.90" stroke="#9a4a2a" stroke-width="2"/>
<text x="378.50" y="82.50" font-size="7.5" text-anchor="end" font-weight="normal" fill="#2a2a2a" stroke="#2a2a2a" stroke-width="0.12" font-family='"Liberation Sans", sans-serif' >5</text>
<text x="381.60" y="82.50" font-size="7.5" text-anchor="middle" font-weight="normal" fill="#2a2a2a" stroke="#2a2a2a" stroke-width="0.12" font-family='"Liberation Sans", sans-serif' >:</text>
<text x="384.70" y="82.50" font-size="7.5" text-anchor="start" font-weight="normal" fill="#2a2a2a" stroke="#2a2a2a" stroke-width="0.12" font-family='"Liberation Sans", sans-serif' >1</text>
<text x="400.00" y="82.50" font-size="7.5" text-anchor="start" font-weight="normal" fill="#2a2a2a" stroke="#2a2a2a" stroke-width="0.12" font-family='"Liberation Sans", sans-serif' >~72 %</text>
<line x1="344.6" y1="89.40" x2="363" y2="89.40" stroke="#7ec0f0" stroke-width="2"/>
<text x="378.50" y="92.00" font-size="7.5" text-anchor="end" font-weight="normal" fill="#2a2a2a" stroke="#2a2a2a" stroke-width="0.12" font-family='"Liberation Sans", sans-serif' >2</text>
<text x="381.60" y="92.00" font-size="7.5" text-anchor="middle" font-weight="normal" fill="#2a2a2a" stroke="#2a2a2a" stroke-width="0.12" font-family='"Liberation Sans", sans-serif' >:</text>
<text x="384.70" y="92.00" font-size="7.5" text-anchor="start" font-weight="normal" fill="#2a2a2a" stroke="#2a2a2a" stroke-width="0.12" font-family='"Liberation Sans", sans-serif' >1</text>
<text x="400.00" y="92.00" font-size="7.5" text-anchor="start" font-weight="normal" fill="#2a2a2a" stroke="#2a2a2a" stroke-width="0.12" font-family='"Liberation Sans", sans-serif' >~63 %</text>
<line x1="344.6" y1="98.90" x2="363" y2="98.90" stroke="#a040e8" stroke-width="2"/>
<text x="378.50" y="101.50" font-size="7.5" text-anchor="end" font-weight="normal" fill="#2a2a2a" stroke="#2a2a2a" stroke-width="0.12" font-family='"Liberation Sans", sans-serif' >1</text>
<text x="381.60" y="101.50" font-size="7.5" text-anchor="middle" font-weight="normal" fill="#2a2a2a" stroke="#2a2a2a" stroke-width="0.12" font-family='"Liberation Sans", sans-serif' >:</text>
<text x="384.70" y="101.50" font-size="7.5" text-anchor="start" font-weight="normal" fill="#2a2a2a" stroke="#2a2a2a" stroke-width="0.12" font-family='"Liberation Sans", sans-serif' >1</text>
<text x="400.00" y="101.50" font-size="7.5" text-anchor="start" font-weight="normal" fill="#2a2a2a" stroke="#2a2a2a" stroke-width="0.12" font-family='"Liberation Sans", sans-serif' >~58 %</text>
<line x1="344.6" y1="108.40" x2="363" y2="108.40" stroke="#f0f020" stroke-width="2"/>
<text x="378.50" y="111.00" font-size="7.5" text-anchor="end" font-weight="normal" fill="#2a2a2a" stroke="#2a2a2a" stroke-width="0.12" font-family='"Liberation Sans", sans-serif' >1</text>
<text x="381.60" y="111.00" font-size="7.5" text-anchor="middle" font-weight="normal" fill="#2a2a2a" stroke="#2a2a2a" stroke-width="0.12" font-family='"Liberation Sans", sans-serif' >:</text>
<text x="384.70" y="111.00" font-size="7.5" text-anchor="start" font-weight="normal" fill="#2a2a2a" stroke="#2a2a2a" stroke-width="0.12" font-family='"Liberation Sans", sans-serif' >2</text>
<text x="400.00" y="111.00" font-size="7.5" text-anchor="start" font-weight="normal" fill="#2a2a2a" stroke="#2a2a2a" stroke-width="0.12" font-family='"Liberation Sans", sans-serif' >~42 %</text>
<line x1="344.6" y1="117.90" x2="363" y2="117.90" stroke="#8a8a1e" stroke-width="2"/>
<text x="378.50" y="120.50" font-size="7.5" text-anchor="end" font-weight="normal" fill="#2a2a2a" stroke="#2a2a2a" stroke-width="0.12" font-family='"Liberation Sans", sans-serif' >1</text>
<text x="381.60" y="120.50" font-size="7.5" text-anchor="middle" font-weight="normal" fill="#2a2a2a" stroke="#2a2a2a" stroke-width="0.12" font-family='"Liberation Sans", sans-serif' >:</text>
<text x="384.70" y="120.50" font-size="7.5" text-anchor="start" font-weight="normal" fill="#2a2a2a" stroke="#2a2a2a" stroke-width="0.12" font-family='"Liberation Sans", sans-serif' >5</text>
<text x="400.00" y="120.50" font-size="7.5" text-anchor="start" font-weight="normal" fill="#2a2a2a" stroke="#2a2a2a" stroke-width="0.12" font-family='"Liberation Sans", sans-serif' >~53 %</text>
<line x1="344.6" y1="127.40" x2="363" y2="127.40" stroke="#1c1c78" stroke-width="2"/>
<text x="378.50" y="130.00" font-size="7.5" text-anchor="end" font-weight="normal" fill="#2a2a2a" stroke="#2a2a2a" stroke-width="0.12" font-family='"Liberation Sans", sans-serif' >1</text>
<text x="381.60" y="130.00" font-size="7.5" text-anchor="middle" font-weight="normal" fill="#2a2a2a" stroke="#2a2a2a" stroke-width="0.12" font-family='"Liberation Sans", sans-serif' >:</text>
<text x="384.70" y="130.00" font-size="7.5" text-anchor="start" font-weight="normal" fill="#2a2a2a" stroke="#2a2a2a" stroke-width="0.12" font-family='"Liberation Sans", sans-serif' >10</text>
<text x="400.00" y="130.00" font-size="7.5" text-anchor="start" font-weight="normal" fill="#2a2a2a" stroke="#2a2a2a" stroke-width="0.12" font-family='"Liberation Sans", sans-serif' >~56 %</text>
<line x1="344.6" y1="136.90" x2="363" y2="136.90" stroke="#4a28a8" stroke-width="2"/>
<text x="378.50" y="139.50" font-size="7.5" text-anchor="end" font-weight="normal" fill="#2a2a2a" stroke="#2a2a2a" stroke-width="0.12" font-family='"Liberation Sans", sans-serif' >1</text>
<text x="381.60" y="139.50" font-size="7.5" text-anchor="middle" font-weight="normal" fill="#2a2a2a" stroke="#2a2a2a" stroke-width="0.12" font-family='"Liberation Sans", sans-serif' >:</text>
<text x="384.70" y="139.50" font-size="7.5" text-anchor="start" font-weight="normal" fill="#2a2a2a" stroke="#2a2a2a" stroke-width="0.12" font-family='"Liberation Sans", sans-serif' >100</text>
<text x="400.00" y="139.50" font-size="7.5" text-anchor="start" font-weight="normal" fill="#2a2a2a" stroke="#2a2a2a" stroke-width="0.12" font-family='"Liberation Sans", sans-serif' >~54 %</text>
<line x1="344.6" y1="146.40" x2="363" y2="146.40" stroke="#4a2412" stroke-width="2"/>
<text x="378.50" y="149.00" font-size="7.5" text-anchor="end" font-weight="normal" fill="#2a2a2a" stroke="#2a2a2a" stroke-width="0.12" font-family='"Liberation Sans", sans-serif' >0</text>
<text x="381.60" y="149.00" font-size="7.5" text-anchor="middle" font-weight="normal" fill="#2a2a2a" stroke="#2a2a2a" stroke-width="0.12" font-family='"Liberation Sans", sans-serif' >:</text>
<text x="384.70" y="149.00" font-size="7.5" text-anchor="start" font-weight="normal" fill="#2a2a2a" stroke="#2a2a2a" stroke-width="0.12" font-family='"Liberation Sans", sans-serif' >1</text>
<text x="400.00" y="149.00" font-size="7.5" text-anchor="start" font-weight="normal" fill="#2a2a2a" stroke="#2a2a2a" stroke-width="0.12" font-family='"Liberation Sans", sans-serif' >~57 %</text>
<rect x="344.6" y="7.5" width="192.00" height="142.90" fill="none" stroke="#3a3a3a" stroke-width="1.05"/>
<line x1="341.40" y1="147.70" x2="344.6" y2="147.70" stroke="#3a3a3a" stroke-width="1"/>
<text x="339.90" y="150.90" font-size="9" text-anchor="end" font-weight="normal" fill="#1e1e1e" stroke="#1e1e1e" stroke-width="0.28" font-family='"Liberation Sans", sans-serif' >40</text>
<line x1="341.40" y1="125.00" x2="344.6" y2="125.00" stroke="#3a3a3a" stroke-width="1"/>
<text x="339.90" y="128.20" font-size="9" text-anchor="end" font-weight="normal" fill="#1e1e1e" stroke="#1e1e1e" stroke-width="0.28" font-family='"Liberation Sans", sans-serif' >50</text>
<line x1="341.40" y1="102.30" x2="344.6" y2="102.30" stroke="#3a3a3a" stroke-width="1"/>
<text x="339.90" y="105.50" font-size="9" text-anchor="end" font-weight="normal" fill="#1e1e1e" stroke="#1e1e1e" stroke-width="0.28" font-family='"Liberation Sans", sans-serif' >60</text>
<line x1="341.40" y1="79.60" x2="344.6" y2="79.60" stroke="#3a3a3a" stroke-width="1"/>
<text x="339.90" y="82.80" font-size="9" text-anchor="end" font-weight="normal" fill="#1e1e1e" stroke="#1e1e1e" stroke-width="0.28" font-family='"Liberation Sans", sans-serif' >70</text>
<line x1="341.40" y1="56.90" x2="344.6" y2="56.90" stroke="#3a3a3a" stroke-width="1"/>
<text x="339.90" y="60.10" font-size="9" text-anchor="end" font-weight="normal" fill="#1e1e1e" stroke="#1e1e1e" stroke-width="0.28" font-family='"Liberation Sans", sans-serif' >80</text>
<line x1="341.40" y1="34.20" x2="344.6" y2="34.20" stroke="#3a3a3a" stroke-width="1"/>
<text x="339.90" y="37.40" font-size="9" text-anchor="end" font-weight="normal" fill="#1e1e1e" stroke="#1e1e1e" stroke-width="0.28" font-family='"Liberation Sans", sans-serif' >90</text>
<line x1="341.40" y1="11.50" x2="344.6" y2="11.50" stroke="#3a3a3a" stroke-width="1"/>
<text x="339.90" y="14.70" font-size="9" text-anchor="end" font-weight="normal" fill="#1e1e1e" stroke="#1e1e1e" stroke-width="0.28" font-family='"Liberation Sans", sans-serif' >100</text>
<line x1="342.60" y1="136.35" x2="344.6" y2="136.35" stroke="#3a3a3a" stroke-width="1"/>
<line x1="342.60" y1="113.65" x2="344.6" y2="113.65" stroke="#3a3a3a" stroke-width="1"/>
<line x1="342.60" y1="90.95" x2="344.6" y2="90.95" stroke="#3a3a3a" stroke-width="1"/>
<line x1="342.60" y1="68.25" x2="344.6" y2="68.25" stroke="#3a3a3a" stroke-width="1"/>
<line x1="342.60" y1="45.55" x2="344.6" y2="45.55" stroke="#3a3a3a" stroke-width="1"/>
<line x1="342.60" y1="22.85" x2="344.6" y2="22.85" stroke="#3a3a3a" stroke-width="1"/>
<line x1="354.00" y1="150.4" x2="354.00" y2="153.60" stroke="#3a3a3a" stroke-width="1"/>
<text x="354.00" y="161.80" font-size="9" text-anchor="middle" font-weight="normal" fill="#1e1e1e" stroke="#1e1e1e" stroke-width="0.28" font-family='"Liberation Sans", sans-serif' >50</text>
<line x1="372.40" y1="150.4" x2="372.40" y2="153.60" stroke="#3a3a3a" stroke-width="1"/>
<text x="372.40" y="161.80" font-size="9" text-anchor="middle" font-weight="normal" fill="#1e1e1e" stroke="#1e1e1e" stroke-width="0.28" font-family='"Liberation Sans", sans-serif' >100</text>
<line x1="390.80" y1="150.4" x2="390.80" y2="153.60" stroke="#3a3a3a" stroke-width="1"/>
<text x="390.80" y="161.80" font-size="9" text-anchor="middle" font-weight="normal" fill="#1e1e1e" stroke="#1e1e1e" stroke-width="0.28" font-family='"Liberation Sans", sans-serif' >150</text>
<line x1="409.20" y1="150.4" x2="409.20" y2="153.60" stroke="#3a3a3a" stroke-width="1"/>
<text x="409.20" y="161.80" font-size="9" text-anchor="middle" font-weight="normal" fill="#1e1e1e" stroke="#1e1e1e" stroke-width="0.28" font-family='"Liberation Sans", sans-serif' >200</text>
<line x1="427.60" y1="150.4" x2="427.60" y2="153.60" stroke="#3a3a3a" stroke-width="1"/>
<text x="427.60" y="161.80" font-size="9" text-anchor="middle" font-weight="normal" fill="#1e1e1e" stroke="#1e1e1e" stroke-width="0.28" font-family='"Liberation Sans", sans-serif' >250</text>
<line x1="446.00" y1="150.4" x2="446.00" y2="153.60" stroke="#3a3a3a" stroke-width="1"/>
<text x="446.00" y="161.80" font-size="9" text-anchor="middle" font-weight="normal" fill="#1e1e1e" stroke="#1e1e1e" stroke-width="0.28" font-family='"Liberation Sans", sans-serif' >300</text>
<line x1="464.40" y1="150.4" x2="464.40" y2="153.60" stroke="#3a3a3a" stroke-width="1"/>
<text x="464.40" y="161.80" font-size="9" text-anchor="middle" font-weight="normal" fill="#1e1e1e" stroke="#1e1e1e" stroke-width="0.28" font-family='"Liberation Sans", sans-serif' >350</text>
<line x1="482.80" y1="150.4" x2="482.80" y2="153.60" stroke="#3a3a3a" stroke-width="1"/>
<text x="482.80" y="161.80" font-size="9" text-anchor="middle" font-weight="normal" fill="#1e1e1e" stroke="#1e1e1e" stroke-width="0.28" font-family='"Liberation Sans", sans-serif' >400</text>
<line x1="501.20" y1="150.4" x2="501.20" y2="153.60" stroke="#3a3a3a" stroke-width="1"/>
<text x="501.20" y="161.80" font-size="9" text-anchor="middle" font-weight="normal" fill="#1e1e1e" stroke="#1e1e1e" stroke-width="0.28" font-family='"Liberation Sans", sans-serif' >450</text>
<line x1="519.60" y1="150.4" x2="519.60" y2="153.60" stroke="#3a3a3a" stroke-width="1"/>
<text x="519.60" y="161.80" font-size="9" text-anchor="middle" font-weight="normal" fill="#1e1e1e" stroke="#1e1e1e" stroke-width="0.28" font-family='"Liberation Sans", sans-serif' >500</text>
<line x1="363.20" y1="150.4" x2="363.20" y2="152.60" stroke="#3a3a3a" stroke-width="1"/>
<line x1="381.60" y1="150.4" x2="381.60" y2="152.60" stroke="#3a3a3a" stroke-width="1"/>
<line x1="400.00" y1="150.4" x2="400.00" y2="152.60" stroke="#3a3a3a" stroke-width="1"/>
<line x1="418.40" y1="150.4" x2="418.40" y2="152.60" stroke="#3a3a3a" stroke-width="1"/>
<line x1="436.80" y1="150.4" x2="436.80" y2="152.60" stroke="#3a3a3a" stroke-width="1"/>
<line x1="455.20" y1="150.4" x2="455.20" y2="152.60" stroke="#3a3a3a" stroke-width="1"/>
<line x1="473.60" y1="150.4" x2="473.60" y2="152.60" stroke="#3a3a3a" stroke-width="1"/>
<line x1="492.00" y1="150.4" x2="492.00" y2="152.60" stroke="#3a3a3a" stroke-width="1"/>
<line x1="510.40" y1="150.4" x2="510.40" y2="152.60" stroke="#3a3a3a" stroke-width="1"/>
<line x1="528.80" y1="150.4" x2="528.80" y2="152.60" stroke="#3a3a3a" stroke-width="1"/>
<text transform="translate(315.3,73.80) rotate(-90)" font-size="10.9" text-anchor="middle" font-weight="bold" fill="#111" font-family='"Liberation Sans", sans-serif'>Mass [%]</text>
<text x="441.00" y="178.80" font-size="10.9" text-anchor="middle" font-weight="bold" fill="#111"  font-family='"Liberation Sans", sans-serif' >Temperature [°C]</text>
<text x="435.60" y="209.60" font-size="14" text-anchor="middle" font-weight="normal" fill="#111"  font-family='"Liberation Serif", serif' >(<tspan font-weight="bold">b</tspan>)</text>
<path d="M344.60,252.50 C356.40,253.00 368.20,253.27 380.00,254.00 C386.67,254.41 393.33,255.00 400.00,256.00 C406.67,257.00 413.33,259.60 420.00,262.00 C426.67,264.40 433.33,266.93 440.00,271.00 C443.67,273.24 447.33,279.18 451.00,280.50 C455.67,282.18 460.33,282.54 465.00,283.60 C470.00,284.74 475.00,285.88 480.00,287.10 C484.67,288.24 489.33,289.89 494.00,290.70 C496.67,291.17 499.33,291.71 502.00,291.80 C513.33,292.16 524.67,292.13 536.00,292.30" fill="none" stroke="#111111" stroke-width="1.6" stroke-linejoin="round"/>
<path d="M344.60,257.00 C346.40,258.00 348.20,259.39 350.00,260.00 C353.33,261.13 356.67,261.85 360.00,262.30 C366.67,263.21 373.33,263.56 380.00,264.10 C388.33,264.77 396.67,265.15 405.00,265.90 C408.33,266.20 411.67,266.43 415.00,267.00 C420.00,267.85 425.00,271.51 430.00,274.00 C435.00,276.49 440.00,279.74 445.00,282.00 C448.33,283.51 451.67,284.69 455.00,286.00 C459.33,287.70 463.67,289.57 468.00,291.00 C472.00,292.32 476.00,293.64 480.00,294.50 C485.00,295.57 490.00,296.30 495.00,297.00 C500.00,297.70 505.00,298.13 510.00,298.80 C518.67,299.96 527.33,301.47 536.00,302.80" fill="none" stroke="#7cc23a" stroke-width="1.6" stroke-linejoin="round"/>
<path d="M344.60,253.00 C356.40,253.83 368.20,254.82 380.00,255.50 C386.67,255.88 393.33,255.96 400.00,256.50 C406.67,257.04 413.33,258.71 420.00,260.70 C426.67,262.69 433.33,266.86 440.00,271.00 C446.67,275.14 453.33,281.72 460.00,286.60 C466.67,291.48 473.33,295.91 480.00,300.40 C483.33,302.64 486.67,304.74 490.00,307.00 C493.33,309.26 496.67,311.85 500.00,314.00 C503.33,316.15 506.67,319.00 510.00,320.00 C513.33,321.00 516.67,321.65 520.00,322.00 C525.33,322.57 530.67,322.73 536.00,323.10" fill="none" stroke="#2a2ad0" stroke-width="1.7" stroke-linejoin="round"/>
<path d="M344.60,253.00 C356.40,253.50 368.20,253.77 380.00,254.50 C386.67,254.91 393.33,255.45 400.00,256.50 C406.67,257.55 413.33,260.83 420.00,264.00 C426.67,267.17 433.33,271.42 440.00,277.00 C445.00,281.18 450.00,289.31 455.00,294.00 C460.00,298.69 465.00,302.00 470.00,306.00 C473.33,308.67 476.67,311.04 480.00,314.00 C483.33,316.96 486.67,321.04 490.00,324.00 C493.33,326.96 496.67,330.08 500.00,332.00 C503.33,333.92 506.67,335.95 510.00,336.50 C513.33,337.05 516.67,337.36 520.00,337.50 C525.33,337.72 530.67,337.77 536.00,337.90" fill="none" stroke="#9a4a2a" stroke-width="1.7" stroke-linejoin="round"/>
<path d="M344.60,253.50 C356.40,254.33 368.20,255.32 380.00,256.00 C386.67,256.38 393.33,256.42 400.00,257.00 C406.67,257.58 413.33,261.05 420.00,264.00 C426.67,266.95 433.33,271.10 440.00,276.00 C446.67,280.90 453.33,287.29 460.00,295.00 C463.33,298.86 466.67,304.89 470.00,309.00 C473.33,313.11 476.67,315.89 480.00,320.00 C483.33,324.11 486.67,329.42 490.00,334.00 C493.33,338.58 496.67,344.57 500.00,347.50 C503.33,350.43 506.67,352.48 510.00,354.00 C513.33,355.52 516.67,357.30 520.00,357.50 C525.33,357.83 530.67,357.83 536.00,358.00" fill="none" stroke="#7ec0f0" stroke-width="1.6" stroke-linejoin="round"/>
<path d="M344.60,253.50 C356.40,254.40 368.20,255.38 380.00,256.20 C386.67,256.66 393.33,256.76 400.00,257.50 C406.67,258.24 413.33,261.83 420.00,265.00 C426.67,268.17 433.33,272.30 440.00,278.00 C445.00,282.28 450.00,290.91 455.00,296.00 C458.33,299.40 461.67,301.65 465.00,305.00 C469.33,309.36 473.67,313.96 478.00,320.00 C482.00,325.58 486.00,336.29 490.00,341.00 C493.33,344.92 496.67,347.68 500.00,350.00 C502.00,351.39 504.00,352.99 506.00,353.50 C509.00,354.27 512.00,354.74 515.00,354.90 C522.00,355.27 529.00,355.30 536.00,355.50" fill="none" stroke="#a040e8" stroke-width="1.6" stroke-linejoin="round"/>
<path d="M344.60,253.00 C356.40,253.67 368.20,254.13 380.00,255.00 C386.67,255.49 393.33,255.91 400.00,257.00 C406.67,258.09 413.33,262.70 420.00,266.00 C426.67,269.30 433.33,272.55 440.00,277.00 C446.67,281.45 453.33,287.15 460.00,294.00 C465.00,299.13 470.00,305.93 475.00,313.00 C480.00,320.07 485.00,328.04 490.00,337.00 C493.33,342.97 496.67,350.87 500.00,357.00 C502.33,361.29 504.67,368.44 507.00,369.00 C516.67,371.30 526.33,371.00 536.00,372.00" fill="none" stroke="#8a8a1e" stroke-width="1.6" stroke-linejoin="round"/>
<path d="M344.60,253.00 C356.40,253.50 368.20,253.77 380.00,254.50 C386.67,254.91 393.33,255.42 400.00,256.50 C406.67,257.58 413.33,261.94 420.00,265.00 C426.67,268.06 433.33,271.35 440.00,275.00 C445.00,277.74 450.00,279.68 455.00,284.00 C458.33,286.88 461.67,294.35 465.00,298.00 C468.33,301.65 471.67,302.80 475.00,307.00 C478.33,311.20 481.67,320.84 485.00,328.00 C488.33,335.16 491.67,343.40 495.00,350.00 C498.33,356.60 501.67,366.95 505.00,368.00 C515.33,371.25 525.67,371.00 536.00,372.50" fill="none" stroke="#f0f020" stroke-width="1.6" stroke-linejoin="round"/>
<path d="M344.60,253.00 C356.40,253.83 368.20,254.51 380.00,255.50 C386.67,256.06 393.33,256.38 400.00,257.50 C406.67,258.62 413.33,264.42 420.00,268.00 C426.67,271.58 433.33,274.62 440.00,279.00 C445.00,282.29 450.00,285.97 455.00,291.00 C458.33,294.35 461.67,299.67 465.00,304.00 C468.33,308.33 471.67,312.36 475.00,317.00 C478.33,321.64 481.67,326.82 485.00,332.00 C486.67,334.59 488.33,337.26 490.00,340.00 C493.33,345.48 496.67,351.15 500.00,357.00 C501.67,359.92 503.33,363.86 505.00,366.00 C506.67,368.14 508.33,370.77 510.00,371.00 C518.67,372.18 527.33,372.00 536.00,372.50" fill="none" stroke="#1c1c78" stroke-width="1.6" stroke-linejoin="round"/>
<path d="M344.60,253.50 C356.40,254.50 368.20,255.57 380.00,256.50 C386.67,257.03 393.33,257.12 400.00,258.00 C406.67,258.88 413.33,265.17 420.00,269.00 C426.67,272.83 433.33,276.40 440.00,281.00 C445.00,284.45 450.00,287.97 455.00,293.00 C458.33,296.35 461.67,301.51 465.00,306.00 C468.33,310.49 471.67,315.02 475.00,320.00 C478.33,324.98 481.67,330.67 485.00,336.00 C486.67,338.67 488.33,341.26 490.00,344.00 C493.33,349.48 496.67,355.47 500.00,361.00 C502.67,365.43 505.33,371.38 508.00,374.00 C510.33,376.30 512.67,378.82 515.00,379.00 C522.00,379.53 529.00,379.47 536.00,379.70" fill="none" stroke="#4a28a8" stroke-width="1.6" stroke-linejoin="round"/>
<path d="M344.60,252.80 C356.40,253.27 368.20,253.47 380.00,254.20 C386.67,254.61 393.33,255.20 400.00,256.50 C406.67,257.80 413.33,265.10 420.00,269.00 C426.67,272.90 433.33,275.62 440.00,280.00 C445.00,283.29 450.00,286.97 455.00,292.00 C458.33,295.35 461.67,300.58 465.00,305.00 C468.33,309.42 471.67,313.84 475.00,318.50 C478.33,323.16 481.67,327.90 485.00,333.00 C486.67,335.55 488.33,338.26 490.00,341.00 C493.33,346.48 496.67,352.15 500.00,358.00 C501.67,360.92 503.33,365.00 505.00,367.00 C506.67,369.00 508.33,371.27 510.00,371.50 C518.67,372.67 527.33,372.50 536.00,373.00" fill="none" stroke="#4a2412" stroke-width="1.6" stroke-linejoin="round"/>
<text x="380.40" y="286.50" font-size="7.9" text-anchor="middle" font-weight="normal" fill="#2a2a2a" stroke="#2a2a2a" stroke-width="0.12" font-family='"Liberation Sans", sans-serif' >MPA : MUA</text>
<line x1="344.6" y1="293.30" x2="363" y2="293.30" stroke="#111111" stroke-width="2"/>
<text x="377.00" y="295.90" font-size="7.5" text-anchor="end" font-weight="normal" fill="#2a2a2a" stroke="#2a2a2a" stroke-width="0.12" font-family='"Liberation Sans", sans-serif' >1</text>
<text x="380.10" y="295.90" font-size="7.5" text-anchor="middle" font-weight="normal" fill="#2a2a2a" stroke="#2a2a2a" stroke-width="0.12" font-family='"Liberation Sans", sans-serif' >:</text>
<text x="383.20" y="295.90" font-size="7.5" text-anchor="start" font-weight="normal" fill="#2a2a2a" stroke="#2a2a2a" stroke-width="0.12" font-family='"Liberation Sans", sans-serif' >0</text>
<text x="399.30" y="295.90" font-size="7.5" text-anchor="start" font-weight="normal" fill="#2a2a2a" stroke="#2a2a2a" stroke-width="0.12" font-family='"Liberation Sans", sans-serif' >~84 %</text>
<line x1="344.6" y1="302.63" x2="363" y2="302.63" stroke="#7cc23a" stroke-width="2"/>
<text x="377.00" y="305.23" font-size="7.5" text-anchor="end" font-weight="normal" fill="#2a2a2a" stroke="#2a2a2a" stroke-width="0.12" font-family='"Liberation Sans", sans-serif' >100</text>
<text x="380.10" y="305.23" font-size="7.5" text-anchor="middle" font-weight="normal" fill="#2a2a2a" stroke="#2a2a2a" stroke-width="0.12" font-family='"Liberation Sans", sans-serif' >:</text>
<text x="383.20" y="305.23" font-size="7.5" text-anchor="start" font-weight="normal" fill="#2a2a2a" stroke="#2a2a2a" stroke-width="0.12" font-family='"Liberation Sans", sans-serif' >1</text>
<text x="399.30" y="305.23" font-size="7.5" text-anchor="start" font-weight="normal" fill="#2a2a2a" stroke="#2a2a2a" stroke-width="0.12" font-family='"Liberation Sans", sans-serif' >~80 %</text>
<line x1="344.6" y1="311.96" x2="363" y2="311.96" stroke="#2a2ad0" stroke-width="2"/>
<text x="377.00" y="314.56" font-size="7.5" text-anchor="end" font-weight="normal" fill="#2a2a2a" stroke="#2a2a2a" stroke-width="0.12" font-family='"Liberation Sans", sans-serif' >10</text>
<text x="380.10" y="314.56" font-size="7.5" text-anchor="middle" font-weight="normal" fill="#2a2a2a" stroke="#2a2a2a" stroke-width="0.12" font-family='"Liberation Sans", sans-serif' >:</text>
<text x="383.20" y="314.56" font-size="7.5" text-anchor="start" font-weight="normal" fill="#2a2a2a" stroke="#2a2a2a" stroke-width="0.12" font-family='"Liberation Sans", sans-serif' >1</text>
<text x="399.30" y="314.56" font-size="7.5" text-anchor="start" font-weight="normal" fill="#2a2a2a" stroke="#2a2a2a" stroke-width="0.12" font-family='"Liberation Sans", sans-serif' >~72 %</text>
<line x1="344.6" y1="321.29" x2="363" y2="321.29" stroke="#9a4a2a" stroke-width="2"/>
<text x="377.00" y="323.89" font-size="7.5" text-anchor="end" font-weight="normal" fill="#2a2a2a" stroke="#2a2a2a" stroke-width="0.12" font-family='"Liberation Sans", sans-serif' >5</text>
<text x="380.10" y="323.89" font-size="7.5" text-anchor="middle" font-weight="normal" fill="#2a2a2a" stroke="#2a2a2a" stroke-width="0.12" font-family='"Liberation Sans", sans-serif' >:</text>
<text x="383.20" y="323.89" font-size="7.5" text-anchor="start" font-weight="normal" fill="#2a2a2a" stroke="#2a2a2a" stroke-width="0.12" font-family='"Liberation Sans", sans-serif' >1</text>
<text x="399.30" y="323.89" font-size="7.5" text-anchor="start" font-weight="normal" fill="#2a2a2a" stroke="#2a2a2a" stroke-width="0.12" font-family='"Liberation Sans", sans-serif' >~66 %</text>
<line x1="344.6" y1="330.62" x2="363" y2="330.62" stroke="#7ec0f0" stroke-width="2"/>
<text x="377.00" y="333.22" font-size="7.5" text-anchor="end" font-weight="normal" fill="#2a2a2a" stroke="#2a2a2a" stroke-width="0.12" font-family='"Liberation Sans", sans-serif' >2</text>
<text x="380.10" y="333.22" font-size="7.5" text-anchor="middle" font-weight="normal" fill="#2a2a2a" stroke="#2a2a2a" stroke-width="0.12" font-family='"Liberation Sans", sans-serif' >:</text>
<text x="383.20" y="333.22" font-size="7.5" text-anchor="start" font-weight="normal" fill="#2a2a2a" stroke="#2a2a2a" stroke-width="0.12" font-family='"Liberation Sans", sans-serif' >1</text>
<text x="399.30" y="333.22" font-size="7.5" text-anchor="start" font-weight="normal" fill="#2a2a2a" stroke="#2a2a2a" stroke-width="0.12" font-family='"Liberation Sans", sans-serif' >~59 %</text>
<line x1="344.6" y1="339.95" x2="363" y2="339.95" stroke="#a040e8" stroke-width="2"/>
<text x="377.00" y="342.55" font-size="7.5" text-anchor="end" font-weight="normal" fill="#2a2a2a" stroke="#2a2a2a" stroke-width="0.12" font-family='"Liberation Sans", sans-serif' >1</text>
<text x="380.10" y="342.55" font-size="7.5" text-anchor="middle" font-weight="normal" fill="#2a2a2a" stroke="#2a2a2a" stroke-width="0.12" font-family='"Liberation Sans", sans-serif' >:</text>
<text x="383.20" y="342.55" font-size="7.5" text-anchor="start" font-weight="normal" fill="#2a2a2a" stroke="#2a2a2a" stroke-width="0.12" font-family='"Liberation Sans", sans-serif' >1</text>
<text x="399.30" y="342.55" font-size="7.5" text-anchor="start" font-weight="normal" fill="#2a2a2a" stroke="#2a2a2a" stroke-width="0.12" font-family='"Liberation Sans", sans-serif' >~60 %</text>
<line x1="344.6" y1="349.28" x2="363" y2="349.28" stroke="#f0f020" stroke-width="2"/>
<text x="377.00" y="351.88" font-size="7.5" text-anchor="end" font-weight="normal" fill="#2a2a2a" stroke="#2a2a2a" stroke-width="0.12" font-family='"Liberation Sans", sans-serif' >1</text>
<text x="380.10" y="351.88" font-size="7.5" text-anchor="middle" font-weight="normal" fill="#2a2a2a" stroke="#2a2a2a" stroke-width="0.12" font-family='"Liberation Sans", sans-serif' >:</text>
<text x="383.20" y="351.88" font-size="7.5" text-anchor="start" font-weight="normal" fill="#2a2a2a" stroke="#2a2a2a" stroke-width="0.12" font-family='"Liberation Sans", sans-serif' >2</text>
<text x="399.30" y="351.88" font-size="7.5" text-anchor="start" font-weight="normal" fill="#2a2a2a" stroke="#2a2a2a" stroke-width="0.12" font-family='"Liberation Sans", sans-serif' >~53 %</text>
<line x1="344.6" y1="358.61" x2="363" y2="358.61" stroke="#8a8a1e" stroke-width="2"/>
<text x="377.00" y="361.21" font-size="7.5" text-anchor="end" font-weight="normal" fill="#2a2a2a" stroke="#2a2a2a" stroke-width="0.12" font-family='"Liberation Sans", sans-serif' >1</text>
<text x="380.10" y="361.21" font-size="7.5" text-anchor="middle" font-weight="normal" fill="#2a2a2a" stroke="#2a2a2a" stroke-width="0.12" font-family='"Liberation Sans", sans-serif' >:</text>
<text x="383.20" y="361.21" font-size="7.5" text-anchor="start" font-weight="normal" fill="#2a2a2a" stroke="#2a2a2a" stroke-width="0.12" font-family='"Liberation Sans", sans-serif' >5</text>
<text x="399.30" y="361.21" font-size="7.5" text-anchor="start" font-weight="normal" fill="#2a2a2a" stroke="#2a2a2a" stroke-width="0.12" font-family='"Liberation Sans", sans-serif' >~53 %</text>
<line x1="344.6" y1="367.94" x2="363" y2="367.94" stroke="#1c1c78" stroke-width="2"/>
<text x="377.00" y="370.54" font-size="7.5" text-anchor="end" font-weight="normal" fill="#2a2a2a" stroke="#2a2a2a" stroke-width="0.12" font-family='"Liberation Sans", sans-serif' >1</text>
<text x="380.10" y="370.54" font-size="7.5" text-anchor="middle" font-weight="normal" fill="#2a2a2a" stroke="#2a2a2a" stroke-width="0.12" font-family='"Liberation Sans", sans-serif' >:</text>
<text x="383.20" y="370.54" font-size="7.5" text-anchor="start" font-weight="normal" fill="#2a2a2a" stroke="#2a2a2a" stroke-width="0.12" font-family='"Liberation Sans", sans-serif' >10</text>
<text x="399.30" y="370.54" font-size="7.5" text-anchor="start" font-weight="normal" fill="#2a2a2a" stroke="#2a2a2a" stroke-width="0.12" font-family='"Liberation Sans", sans-serif' >~53 %</text>
<line x1="344.6" y1="377.27" x2="363" y2="377.27" stroke="#4a28a8" stroke-width="2"/>
<text x="377.00" y="379.87" font-size="7.5" text-anchor="end" font-weight="normal" fill="#2a2a2a" stroke="#2a2a2a" stroke-width="0.12" font-family='"Liberation Sans", sans-serif' >1</text>
<text x="380.10" y="379.87" font-size="7.5" text-anchor="middle" font-weight="normal" fill="#2a2a2a" stroke="#2a2a2a" stroke-width="0.12" font-family='"Liberation Sans", sans-serif' >:</text>
<text x="383.20" y="379.87" font-size="7.5" text-anchor="start" font-weight="normal" fill="#2a2a2a" stroke="#2a2a2a" stroke-width="0.12" font-family='"Liberation Sans", sans-serif' >100</text>
<text x="399.30" y="379.87" font-size="7.5" text-anchor="start" font-weight="normal" fill="#2a2a2a" stroke="#2a2a2a" stroke-width="0.12" font-family='"Liberation Sans", sans-serif' >~50 %</text>
<line x1="344.6" y1="386.60" x2="363" y2="386.60" stroke="#4a2412" stroke-width="2"/>
<text x="377.00" y="389.20" font-size="7.5" text-anchor="end" font-weight="normal" fill="#2a2a2a" stroke="#2a2a2a" stroke-width="0.12" font-family='"Liberation Sans", sans-serif' >0</text>
<text x="380.10" y="389.20" font-size="7.5" text-anchor="middle" font-weight="normal" fill="#2a2a2a" stroke="#2a2a2a" stroke-width="0.12" font-family='"Liberation Sans", sans-serif' >:</text>
<text x="383.20" y="389.20" font-size="7.5" text-anchor="start" font-weight="normal" fill="#2a2a2a" stroke="#2a2a2a" stroke-width="0.12" font-family='"Liberation Sans", sans-serif' >1</text>
<text x="399.30" y="389.20" font-size="7.5" text-anchor="start" font-weight="normal" fill="#2a2a2a" stroke="#2a2a2a" stroke-width="0.12" font-family='"Liberation Sans", sans-serif' >~53 %</text>
<rect x="344.6" y="247.8" width="192.00" height="142.50" fill="none" stroke="#3a3a3a" stroke-width="1.05"/>
<line x1="341.40" y1="380.00" x2="344.6" y2="380.00" stroke="#3a3a3a" stroke-width="1"/>
<text x="339.90" y="383.20" font-size="9" text-anchor="end" font-weight="normal" fill="#1e1e1e" stroke="#1e1e1e" stroke-width="0.28" font-family='"Liberation Sans", sans-serif' >50</text>
<line x1="341.40" y1="354.62" x2="344.6" y2="354.62" stroke="#3a3a3a" stroke-width="1"/>
<text x="339.90" y="357.82" font-size="9" text-anchor="end" font-weight="normal" fill="#1e1e1e" stroke="#1e1e1e" stroke-width="0.28" font-family='"Liberation Sans", sans-serif' >60</text>
<line x1="341.40" y1="329.24" x2="344.6" y2="329.24" stroke="#3a3a3a" stroke-width="1"/>
<text x="339.90" y="332.44" font-size="9" text-anchor="end" font-weight="normal" fill="#1e1e1e" stroke="#1e1e1e" stroke-width="0.28" font-family='"Liberation Sans", sans-serif' >70</text>
<line x1="341.40" y1="303.86" x2="344.6" y2="303.86" stroke="#3a3a3a" stroke-width="1"/>
<text x="339.90" y="307.06" font-size="9" text-anchor="end" font-weight="normal" fill="#1e1e1e" stroke="#1e1e1e" stroke-width="0.28" font-family='"Liberation Sans", sans-serif' >80</text>
<line x1="341.40" y1="278.48" x2="344.6" y2="278.48" stroke="#3a3a3a" stroke-width="1"/>
<text x="339.90" y="281.68" font-size="9" text-anchor="end" font-weight="normal" fill="#1e1e1e" stroke="#1e1e1e" stroke-width="0.28" font-family='"Liberation Sans", sans-serif' >90</text>
<line x1="341.40" y1="253.10" x2="344.6" y2="253.10" stroke="#3a3a3a" stroke-width="1"/>
<text x="339.90" y="256.30" font-size="9" text-anchor="end" font-weight="normal" fill="#1e1e1e" stroke="#1e1e1e" stroke-width="0.28" font-family='"Liberation Sans", sans-serif' >100</text>
<line x1="342.60" y1="367.31" x2="344.6" y2="367.31" stroke="#3a3a3a" stroke-width="1"/>
<line x1="342.60" y1="341.93" x2="344.6" y2="341.93" stroke="#3a3a3a" stroke-width="1"/>
<line x1="342.60" y1="316.55" x2="344.6" y2="316.55" stroke="#3a3a3a" stroke-width="1"/>
<line x1="342.60" y1="291.17" x2="344.6" y2="291.17" stroke="#3a3a3a" stroke-width="1"/>
<line x1="342.60" y1="265.79" x2="344.6" y2="265.79" stroke="#3a3a3a" stroke-width="1"/>
<line x1="354.00" y1="390.3" x2="354.00" y2="393.50" stroke="#3a3a3a" stroke-width="1"/>
<text x="354.00" y="402.40" font-size="9" text-anchor="middle" font-weight="normal" fill="#1e1e1e" stroke="#1e1e1e" stroke-width="0.28" font-family='"Liberation Sans", sans-serif' >50</text>
<line x1="372.40" y1="390.3" x2="372.40" y2="393.50" stroke="#3a3a3a" stroke-width="1"/>
<text x="372.40" y="402.40" font-size="9" text-anchor="middle" font-weight="normal" fill="#1e1e1e" stroke="#1e1e1e" stroke-width="0.28" font-family='"Liberation Sans", sans-serif' >100</text>
<line x1="390.80" y1="390.3" x2="390.80" y2="393.50" stroke="#3a3a3a" stroke-width="1"/>
<text x="390.80" y="402.40" font-size="9" text-anchor="middle" font-weight="normal" fill="#1e1e1e" stroke="#1e1e1e" stroke-width="0.28" font-family='"Liberation Sans", sans-serif' >150</text>
<line x1="409.20" y1="390.3" x2="409.20" y2="393.50" stroke="#3a3a3a" stroke-width="1"/>
<text x="409.20" y="402.40" font-size="9" text-anchor="middle" font-weight="normal" fill="#1e1e1e" stroke="#1e1e1e" stroke-width="0.28" font-family='"Liberation Sans", sans-serif' >200</text>
<line x1="427.60" y1="390.3" x2="427.60" y2="393.50" stroke="#3a3a3a" stroke-width="1"/>
<text x="427.60" y="402.40" font-size="9" text-anchor="middle" font-weight="normal" fill="#1e1e1e" stroke="#1e1e1e" stroke-width="0.28" font-family='"Liberation Sans", sans-serif' >250</text>
<line x1="446.00" y1="390.3" x2="446.00" y2="393.50" stroke="#3a3a3a" stroke-width="1"/>
<text x="446.00" y="402.40" font-size="9" text-anchor="middle" font-weight="normal" fill="#1e1e1e" stroke="#1e1e1e" stroke-width="0.28" font-family='"Liberation Sans", sans-serif' >300</text>
<line x1="464.40" y1="390.3" x2="464.40" y2="393.50" stroke="#3a3a3a" stroke-width="1"/>
<text x="464.40" y="402.40" font-size="9" text-anchor="middle" font-weight="normal" fill="#1e1e1e" stroke="#1e1e1e" stroke-width="0.28" font-family='"Liberation Sans", sans-serif' >350</text>
<line x1="482.80" y1="390.3" x2="482.80" y2="393.50" stroke="#3a3a3a" stroke-width="1"/>
<text x="482.80" y="402.40" font-size="9" text-anchor="middle" font-weight="normal" fill="#1e1e1e" stroke="#1e1e1e" stroke-width="0.28" font-family='"Liberation Sans", sans-serif' >400</text>
<line x1="501.20" y1="390.3" x2="501.20" y2="393.50" stroke="#3a3a3a" stroke-width="1"/>
<text x="501.20" y="402.40" font-size="9" text-anchor="middle" font-weight="normal" fill="#1e1e1e" stroke="#1e1e1e" stroke-width="0.28" font-family='"Liberation Sans", sans-serif' >450</text>
<line x1="519.60" y1="390.3" x2="519.60" y2="393.50" stroke="#3a3a3a" stroke-width="1"/>
<text x="519.60" y="402.40" font-size="9" text-anchor="middle" font-weight="normal" fill="#1e1e1e" stroke="#1e1e1e" stroke-width="0.28" font-family='"Liberation Sans", sans-serif' >500</text>
<line x1="363.20" y1="390.3" x2="363.20" y2="392.50" stroke="#3a3a3a" stroke-width="1"/>
<line x1="381.60" y1="390.3" x2="381.60" y2="392.50" stroke="#3a3a3a" stroke-width="1"/>
<line x1="400.00" y1="390.3" x2="400.00" y2="392.50" stroke="#3a3a3a" stroke-width="1"/>
<line x1="418.40" y1="390.3" x2="418.40" y2="392.50" stroke="#3a3a3a" stroke-width="1"/>
<line x1="436.80" y1="390.3" x2="436.80" y2="392.50" stroke="#3a3a3a" stroke-width="1"/>
<line x1="455.20" y1="390.3" x2="455.20" y2="392.50" stroke="#3a3a3a" stroke-width="1"/>
<line x1="473.60" y1="390.3" x2="473.60" y2="392.50" stroke="#3a3a3a" stroke-width="1"/>
<line x1="492.00" y1="390.3" x2="492.00" y2="392.50" stroke="#3a3a3a" stroke-width="1"/>
<line x1="510.40" y1="390.3" x2="510.40" y2="392.50" stroke="#3a3a3a" stroke-width="1"/>
<line x1="528.80" y1="390.3" x2="528.80" y2="392.50" stroke="#3a3a3a" stroke-width="1"/>
<text transform="translate(315.3,313.60) rotate(-90)" font-size="10.9" text-anchor="middle" font-weight="bold" fill="#111" font-family='"Liberation Sans", sans-serif'>Mass [%]</text>
<text x="441.00" y="419.20" font-size="10.9" text-anchor="middle" font-weight="bold" fill="#111"  font-family='"Liberation Sans", sans-serif' >Temperature [°C]</text>
<text x="435.60" y="450.00" font-size="14" text-anchor="middle" font-weight="normal" fill="#111"  font-family='"Liberation Serif", serif' >(<tspan font-weight="bold">d</tspan>)</text>
</svg></body></html>
